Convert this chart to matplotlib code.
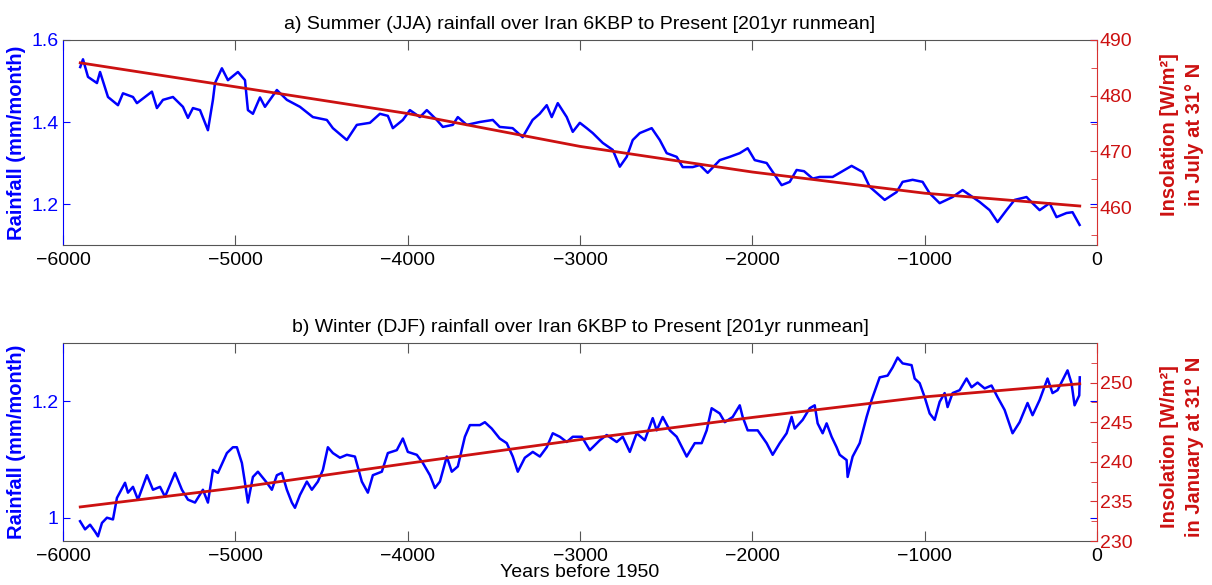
import matplotlib
matplotlib.use("Agg")
import matplotlib.pyplot as plt

plt.rcParams['font.family'] = ['Liberation Sans', 'DejaVu Sans']

# Summer (JJA) rainfall, 201yr running mean (mm/month)
summer_years = [
    -5900, -5884, -5855, -5803, -5785, -5739, -5681, -5652, -5594, -5571,
    -5484, -5455, -5420, -5362, -5304, -5275, -5246, -5205, -5159, -5130,
    -5118, -5078, -5043, -4985, -4944, -4927, -4898, -4857, -4828, -4759,
    -4701, -4625, -4550, -4469, -4434, -4353, -4295, -4219, -4161, -4115,
    -4086, -4028, -3987, -3929, -3889, -3831, -3796, -3738, -3709, -3657,
    -3582, -3506, -3466, -3391, -3333, -3275, -3234, -3193, -3164, -3129,
    -3077, -3042, -3001, -2961, -2926, -2868, -2810, -2769, -2729, -2694,
    -2653, -2584, -2537, -2497, -2439, -2404, -2346, -2305, -2259, -2189,
    -2131, -2073, -2027, -1986, -1917, -1870, -1830, -1783, -1743, -1700,
    -1650, -1609, -1534, -1424, -1360, -1319, -1232, -1163, -1128, -1070,
    -1012, -971, -913, -838, -780, -722, -681, -623, -577, -525,
    -478, -409, -374, -333, -275, -235, -177, -142, -101,
]
summer_rain = [
    1.534, 1.553, 1.510, 1.495, 1.522, 1.461, 1.441, 1.470, 1.461, 1.446,
    1.474, 1.434, 1.454, 1.461, 1.437, 1.410, 1.434, 1.429, 1.380, 1.454,
    1.495, 1.531, 1.502, 1.522, 1.502, 1.429, 1.420, 1.460, 1.437, 1.478,
    1.454, 1.437, 1.412, 1.405, 1.385, 1.356, 1.393, 1.398, 1.420, 1.415,
    1.385, 1.405, 1.429, 1.412, 1.429, 1.405, 1.388, 1.393, 1.412, 1.393,
    1.400, 1.405, 1.388, 1.385, 1.363, 1.405, 1.420, 1.441, 1.412, 1.446,
    1.412, 1.376, 1.398, 1.385, 1.373, 1.349, 1.332, 1.291, 1.315, 1.356,
    1.373, 1.385, 1.356, 1.324, 1.315, 1.290, 1.290, 1.295, 1.276, 1.307,
    1.315, 1.324, 1.336, 1.307, 1.300, 1.271, 1.246, 1.254, 1.283, 1.280,
    1.262, 1.266, 1.266, 1.293, 1.278, 1.242, 1.210, 1.229, 1.254, 1.259,
    1.254, 1.226, 1.202, 1.217, 1.234, 1.217, 1.205, 1.185, 1.156, 1.185,
    1.210, 1.217, 1.202, 1.185, 1.202, 1.168, 1.178, 1.180, 1.149,
]

# July insolation at 31N (W/m2)
july_years = [-5900, -5000, -4000, -3000, -2000, -1000, -100]
july_insol = [485.9, 481.6, 476.8, 470.9, 466.3, 462.5, 460.2]

# Winter (DJF) rainfall, 201yr running mean (mm/month)
winter_years = [
    -5901, -5872, -5843, -5814, -5797, -5774, -5745, -5710, -5687, -5640,
    -5623, -5594, -5565, -5513, -5478, -5437, -5408, -5350, -5310, -5275,
    -5234, -5188, -5159, -5130, -5101, -5049, -5014, -4991, -4962, -4944,
    -4927, -4898, -4869, -4817, -4788, -4759, -4730, -4701, -4672, -4654,
    -4625, -4585, -4556, -4521, -4492, -4463, -4434, -4393, -4353, -4306,
    -4266, -4231, -4202, -4150, -4115, -4063, -4028, -3999, -3947, -3912,
    -3871, -3842, -3813, -3773, -3744, -3709, -3668, -3639, -3581, -3552,
    -3512, -3466, -3425, -3390, -3361, -3320, -3274, -3233, -3193, -3158,
    -3117, -3077, -3042, -2990, -2943, -2885, -2845, -2787, -2752, -2711,
    -2671, -2624, -2578, -2555, -2520, -2479, -2439, -2381, -2334, -2294,
    -2265, -2236, -2189, -2160, -2114, -2073, -2056, -2027, -1969, -1917,
    -1882, -1841, -1801, -1772, -1754, -1708, -1667, -1638, -1621, -1592,
    -1569, -1540, -1511, -1493, -1453, -1447, -1418, -1377, -1337, -1308,
    -1261, -1215, -1186, -1157, -1128, -1076, -1058, -1029, -1000, -971,
    -942, -913, -884, -867, -838, -797, -757, -728, -693, -652,
    -612, -577, -536, -490, -449, -403, -374, -333, -287, -258,
    -229, -200, -171, -148, -130, -103, -100,
]
winter_rain = [
    0.994, 0.980, 0.988, 0.976, 0.968, 0.991, 1.000, 0.997, 1.034, 1.060,
    1.043, 1.053, 1.031, 1.073, 1.048, 1.053, 1.036, 1.077, 1.048, 1.031,
    1.026, 1.048, 1.026, 1.082, 1.077, 1.111, 1.121, 1.121, 1.094, 1.060,
    1.026, 1.070, 1.079, 1.060, 1.048, 1.073, 1.077, 1.048, 1.026, 1.017,
    1.039, 1.062, 1.048, 1.062, 1.082, 1.121, 1.111, 1.103, 1.108, 1.105,
    1.062, 1.043, 1.073, 1.079, 1.111, 1.116, 1.136, 1.113, 1.108, 1.094,
    1.073, 1.051, 1.062, 1.105, 1.079, 1.088, 1.139, 1.159, 1.159, 1.164,
    1.153, 1.136, 1.128, 1.105, 1.079, 1.103, 1.113, 1.105, 1.121, 1.145,
    1.139, 1.130, 1.139, 1.139, 1.116, 1.133, 1.142, 1.130, 1.139, 1.113,
    1.145, 1.133, 1.171, 1.150, 1.173, 1.150, 1.139, 1.105, 1.128, 1.128,
    1.150, 1.188, 1.179, 1.164, 1.173, 1.193, 1.173, 1.150, 1.150, 1.128,
    1.108, 1.128, 1.145, 1.173, 1.153, 1.168, 1.188, 1.193, 1.162, 1.145,
    1.162, 1.139, 1.121, 1.108, 1.099, 1.070, 1.105, 1.128, 1.173, 1.202,
    1.241, 1.244, 1.258, 1.275, 1.265, 1.262, 1.239, 1.231, 1.207, 1.179,
    1.168, 1.199, 1.214, 1.190, 1.214, 1.219, 1.239, 1.224, 1.232, 1.222,
    1.227, 1.207, 1.185, 1.145, 1.164, 1.197, 1.176, 1.202, 1.239, 1.214,
    1.219, 1.236, 1.253, 1.231, 1.193, 1.210, 1.241,
]

# January insolation at 31N (W/m2)
jan_years = [-5900, -5000, -4000, -3000, -2000, -1000, -100]
jan_insol = [234.3, 236.7, 239.8, 242.8, 245.6, 248.2, 249.85]

xticks = [-6000, -5000, -4000, -3000, -2000, -1000, 0]

BLUE = '#0000ff'
RED = '#cc1111'
RED_AXIS = '#d83030'
GRAY = '#555555'


def make_panel(rect, title, years, rain, ins_years, ins, rain_lim, rain_ticks,
               rain_labels, ins_lim, ins_ticks, ins_minor, ins_label, label_y):
    ax = fig.add_axes(rect)
    ax2 = ax.twinx()

    ax.plot(years, rain, color=BLUE, linewidth=1.8)
    ax2.plot(ins_years, ins, color=RED, linewidth=2.0)

    ax.set_xlim(-6000, 0)
    ax.set_xticks(xticks)
    ax.set_xticklabels(['\u22126000', '\u22125000', '\u22124000', '\u22123000',
                        '\u22122000', '\u22121000', '0'])
    ax.tick_params(axis='x', direction='in', top=True, bottom=True, length=7,
                   color=GRAY, labelsize=14, pad=5)

    ax.set_ylim(*rain_lim)
    ax.set_yticks(rain_ticks)
    ax.set_yticklabels(rain_labels)
    ax.tick_params(axis='y', direction='in', left=True, right=True, length=5,
                   color=BLUE, labelcolor=BLUE, labelsize=14, pad=3)
    ax.set_ylabel('Rainfall (mm/month)', color=BLUE, fontsize=14.5,
                  fontweight='bold', rotation=90, rotation_mode='anchor',
                  ha='center', va='center')
    ax.yaxis.set_label_coords(-0.045, 0.5)

    ax2.set_ylim(*ins_lim)
    ax2.set_yticks(ins_ticks)
    ax2.set_yticks(ins_minor, minor=True)
    ax2.tick_params(axis='y', which='major', direction='in', length=5,
                    color=RED_AXIS, labelcolor=RED, labelsize=14, pad=2)
    ax2.tick_params(axis='y', which='minor', direction='in', length=4,
                    color=RED_AXIS)
    ax2.set_ylabel(ins_label, color=RED, fontsize=14.5, fontweight='bold',
                   rotation=90, rotation_mode='anchor', ha='center',
                   va='center', linespacing=1.4)
    ax2.yaxis.set_label_coords(1.0825, label_y)

    for side in ['top', 'bottom']:
        ax.spines[side].set_color(GRAY)
    ax.spines['left'].set_color(BLUE)
    ax.spines['right'].set_visible(False)
    for side in ['top', 'bottom', 'left']:
        ax2.spines[side].set_visible(False)
    ax2.spines['right'].set_color(RED_AXIS)

    ax.set_title(title, fontsize=14, pad=8)
    return ax, ax2


fig = plt.figure(figsize=(12.12, 5.85), dpi=100)

make_panel([63 / 1212, 1 - 245 / 585, 1034 / 1212, 205 / 585],
           'a) Summer (JJA) rainfall over Iran 6KBP to Present [201yr runmean]',
           summer_years, summer_rain, july_years, july_insol,
           (1.1, 1.6), [1.2, 1.4, 1.6], ['1.2', '1.4', '1.6'],
           (453.2, 490), [460, 470, 480, 490], [455, 465, 475, 485],
           'Insolation [W/m\u00b2]\nin July at 31\u00b0 N', 0.54)

axb, axb2 = make_panel([63 / 1212, 1 - 541 / 585, 1034 / 1212, 198 / 585],
                       'b) Winter (DJF) rainfall over Iran 6KBP to Present [201yr runmean]',
                       winter_years, winter_rain, jan_years, jan_insol,
                       (0.96, 1.3), [1.0, 1.2], ['1', '1.2'],
                       (230, 255), [230, 235, 240, 245, 250],
                       [232.5, 237.5, 242.5, 247.5, 252.5],
                       'Insolation [W/m\u00b2]\nin January at 31\u00b0 N', 0.475)
axb.set_xlabel('Years before 1950', fontsize=14, labelpad=-1)

fig.savefig('out.png', dpi=100)
